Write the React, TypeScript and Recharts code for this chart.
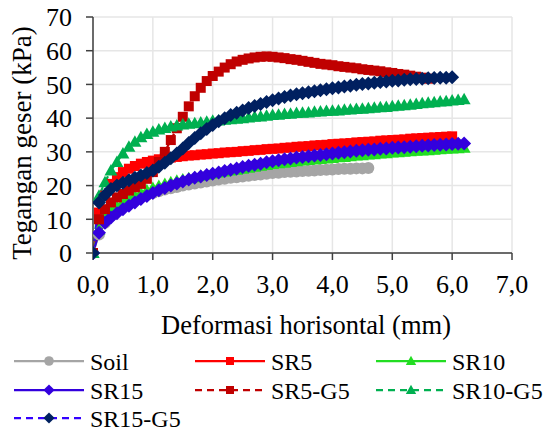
import React from 'react';
import { LineChart, Line, XAxis, YAxis, CartesianGrid, Label } from 'recharts';

const X = [0, 0.1, 0.2, 0.3, 0.4, 0.5, 0.6, 0.7, 0.8, 0.9, 1.0, 1.1, 1.2, 1.3, 1.4, 1.5, 1.6, 1.7, 1.8, 1.9, 2.0, 2.1, 2.2, 2.3, 2.4, 2.5, 2.6, 2.7, 2.8, 2.9, 3.0, 3.1, 3.2, 3.3, 3.4, 3.5, 3.6, 3.7, 3.8, 3.9, 4.0, 4.1, 4.2, 4.3, 4.4, 4.5, 4.6, 4.7, 4.8, 4.9, 5.0, 5.1, 5.2, 5.3, 5.4, 5.5, 5.6, 5.7, 5.8, 5.9, 6.0, 6.1, 6.2];

const soil = [0, 5.5, 9, 11, 12.5, 13.8, 14.8, 15.7, 16.5, 17.2, 17.8, 18.3, 18.8, 19.2, 19.6, 20.0, 20.3, 20.6, 20.9, 21.2, 21.5, 21.8, 22.0, 22.3, 22.5, 22.7, 22.9, 23.1, 23.3, 23.5, 23.7, 23.8, 24.0, 24.1, 24.2, 24.3, 24.4, 24.5, 24.6, 24.7, 24.8, 24.9, 25.0, 25.0, 25.1, 25.1, 25.2];
const sr5 = [0, 12, 17, 20.5, 22.5, 24, 25, 25.8, 26.5, 27, 27.4, 27.8, 28.1, 28.3, 28.5, 28.7, 28.9, 29.0, 29.2, 29.3, 29.5, 29.6, 29.8, 29.9, 30.0, 30.2, 30.3, 30.5, 30.6, 30.8, 30.9, 31.0, 31.2, 31.3, 31.5, 31.6, 31.7, 31.9, 32.0, 32.1, 32.3, 32.4, 32.5, 32.6, 32.8, 32.9, 33.0, 33.1, 33.3, 33.4, 33.5, 33.6, 33.7, 33.9, 34.0, 34.1, 34.2, 34.3, 34.4, 34.5, 34.6];
const sr10 = [0, 7, 11, 12.5, 13.8, 15, 16, 17, 17.8, 18.6, 19.3, 19.9, 20.5, 21, 21.4, 21.8, 22.2, 22.5, 22.9, 23.2, 23.6, 23.9, 24.2, 24.5, 24.7, 25.0, 25.3, 25.6, 25.9, 26.1, 26.4, 26.6, 26.8, 27.0, 27.2, 27.4, 27.6, 27.7, 27.9, 28.0, 28.2, 28.4, 28.5, 28.7, 28.9, 29.0, 29.2, 29.3, 29.5, 29.6, 29.8, 29.9, 30.0, 30.2, 30.3, 30.4, 30.5, 30.6, 30.8, 30.9, 31.0, 31.1, 31.2];
const sr15 = [0, 6, 9, 10.5, 11.8, 13, 14, 15, 16, 16.9, 17.8, 18.6, 19.3, 20, 20.6, 21.2, 21.8, 22.3, 22.7, 23.1, 23.5, 23.9, 24.3, 24.7, 25.1, 25.5, 25.9, 26.2, 26.5, 26.9, 27.2, 27.5, 27.8, 28.0, 28.3, 28.5, 28.7, 28.9, 29.1, 29.3, 29.5, 29.7, 29.9, 30.1, 30.3, 30.5, 30.6, 30.7, 30.9, 31.0, 31.2, 31.3, 31.4, 31.5, 31.7, 31.8, 31.9, 32.0, 32.1, 32.2, 32.3, 32.4, 32.5];
const sr5g5 = [0, 10, 13, 15, 16.5, 17.5, 18.5, 19.5, 20.5, 22, 24, 27, 30, 33.5, 37, 40.4, 43.5, 46.5, 49, 51, 52.5, 53.8, 55, 56, 56.8, 57.3, 57.7, 58, 58.2, 58.3, 58.2, 58, 57.8, 57.5, 57.3, 57, 56.7, 56.4, 56.1, 55.9, 55.7, 55.4, 55.2, 55, 54.8, 54.5, 54.3, 54.1, 53.9, 53.6, 53.4, 53.1, 52.9, 52.6, 52.3, 52, 51.7];
const sr10g5 = [0, 17, 21, 24.5, 27, 29.5, 31.5, 33, 34.3, 35.3, 36, 36.6, 37.1, 37.5, 37.8, 38.1, 38.3, 38.5, 38.7, 38.9, 39.2, 39.3, 39.5, 39.7, 39.8, 40.0, 40.2, 40.4, 40.5, 40.7, 40.9, 41.0, 41.2, 41.3, 41.5, 41.6, 41.7, 41.9, 42.0, 42.1, 42.2, 42.3, 42.5, 42.6, 42.7, 42.8, 42.9, 43.1, 43.2, 43.3, 43.5, 43.7, 43.8, 44.0, 44.2, 44.4, 44.6, 44.7, 44.9, 45.0, 45.2, 45.4, 45.6];
const sr15g5 = [0, 15, 17.2, 19, 20, 20.8, 21.6, 22.3, 23, 23.7, 24.5, 25.6, 26.8, 28.1, 29.5, 31, 32.6, 34.1, 35.5, 36.8, 38, 39.1, 40, 40.9, 41.6, 42.3, 43, 43.6, 44.2, 44.8, 45.3, 45.8, 46.3, 46.7, 47.1, 47.4, 47.7, 48, 48.3, 48.6, 48.9, 49.1, 49.4, 49.6, 49.9, 50.1, 50.3, 50.5, 50.7, 50.9, 51.1, 51.2, 51.4, 51.5, 51.6, 51.7, 51.8, 51.9, 52, 52, 52.1];

const X_TICKS = [0, 1, 2, 3, 4, 5, 6, 7];
const Y_TICKS = [0, 10, 20, 30, 40, 50, 60, 70];

type Kind = 'circle' | 'square' | 'triangle' | 'diamond';

const SERIES: { name: string; values: number[]; line: string; fill: string; kind: Kind; dash?: string }[] = [
  { name: 'Soil', values: soil, line: '#a5a5a5', fill: '#a5a5a5', kind: 'circle' },
  { name: 'SR5', values: sr5, line: '#ff0000', fill: '#ff0000', kind: 'square' },
  { name: 'SR10', values: sr10, line: '#22dd22', fill: '#22dd22', kind: 'triangle' },
  { name: 'SR15', values: sr15, line: '#3300dd', fill: '#3300dd', kind: 'diamond' },
  { name: 'SR5-G5', values: sr5g5, line: '#c00000', fill: '#c00000', kind: 'square', dash: '7 5' },
  { name: 'SR10-G5', values: sr10g5, line: '#00b050', fill: '#00b050', kind: 'triangle', dash: '7 5' },
  { name: 'SR15-G5', values: sr15g5, line: '#3300ff', fill: '#002060', kind: 'diamond', dash: '7 5' },
];

const FONT = '"Liberation Serif", "Times New Roman", serif';

function Marker({ kind, cx, cy, fill, scale = 1 }: { kind: Kind; cx: number; cy: number; fill: string; scale?: number }) {
  if (cx == null || cy == null || isNaN(cx) || isNaN(cy)) return null;
  const k = scale;
  if (kind === 'circle') return <circle cx={cx} cy={cy} r={6 * k} fill={fill} />;
  if (kind === 'square') return <rect x={cx - 5 * k} y={cy - 5 * k} width={10 * k} height={10 * k} fill={fill} />;
  if (kind === 'triangle')
    return <polygon points={`${cx},${cy - 6.5 * k} ${cx + 6.5 * k},${cy + 5 * k} ${cx - 6.5 * k},${cy + 5 * k}`} fill={fill} />;
  return <polygon points={`${cx},${cy - 7 * k} ${cx + 7 * k},${cy} ${cx},${cy + 7 * k} ${cx - 7 * k},${cy}`} fill={fill} />;
}

const fmt = (v: number) => v.toFixed(1).replace('.', ',');

function LegendBox() {
  const cols = [14, 195, 376];
  const rows = [361, 390, 418];
  return (
    <svg width={545} height={432} style={{ position: 'absolute', left: 0, top: 0, pointerEvents: 'none' }}>
      {SERIES.map((s, i) => {
        const x0 = cols[i % 3];
        const y = rows[Math.floor(i / 3)];
        return (
          <g key={s.name}>
            <line x1={x0} x2={x0 + 70} y1={y} y2={y} stroke={s.line} strokeWidth={2.25} strokeDasharray={s.dash} />
            <Marker kind={s.kind} cx={x0 + 35} cy={y} fill={s.fill} scale={0.8} />
            <text x={x0 + 76} y={y + 8.5} fontFamily={FONT} fontSize={24} fill="#000">
              {s.name}
            </text>
          </g>
        );
      })}
    </svg>
  );
}

export default function App() {
  return (
    <div style={{ position: 'absolute', left: 0, top: 0, width: 545, height: 432, background: '#fff' }}>
      <LineChart width={545} height={432} margin={{ top: 17, right: 33, left: 0, bottom: 99 }}>
        <CartesianGrid stroke="#e6e6e6" strokeWidth={1.5} />
        <XAxis
          type="number"
          dataKey="x"
          domain={[0, 7]}
          ticks={X_TICKS}
          interval={0}
          tickFormatter={fmt}
          height={80}
          tickSize={7}
          tickMargin={15}
          stroke="#404040"
          strokeWidth={1.5}
          tick={{ fontFamily: FONT, fontSize: 26, fill: '#000' }}
          allowDataOverflow
        >
          <Label
            content={() => (
              <text x={306} y={334} textAnchor="middle" fontFamily={FONT} fontSize={26.5} fill="#000">
                Deformasi horisontal (mm)
              </text>
            )}
          />
        </XAxis>
        <YAxis
          type="number"
          domain={[0, 70]}
          ticks={Y_TICKS}
          interval={0}
          width={93}
          tickSize={7}
          tickMargin={14}
          stroke="#404040"
          strokeWidth={1.5}
          tick={{ fontFamily: FONT, fontSize: 26, fill: '#000' }}
        >
          <Label
            content={() => (
              <text
                x={22}
                y={143}
                textAnchor="middle"
                dominantBaseline="central"
                transform="rotate(-90, 22, 143)"
                fontFamily={FONT}
                fontSize={27}
                fill="#000"
              >
                Tegangan geser (kPa)
              </text>
            )}
          />
        </YAxis>
        {SERIES.map((s) => (
          <Line
            key={s.name}
            data={s.values.map((v, i) => ({ x: X[i], y: v }))}
            dataKey="y"
            name={s.name}
            stroke={s.line}
            strokeWidth={2.25}
            strokeDasharray={s.dash}
            isAnimationActive={false}
            dot={(p: any) => <Marker key={`${s.name}-${p.index}`} kind={s.kind} cx={p.cx} cy={p.cy} fill={s.fill} />}
            activeDot={false}
          />
        ))}
      </LineChart>
      <LegendBox />
    </div>
  );
}
